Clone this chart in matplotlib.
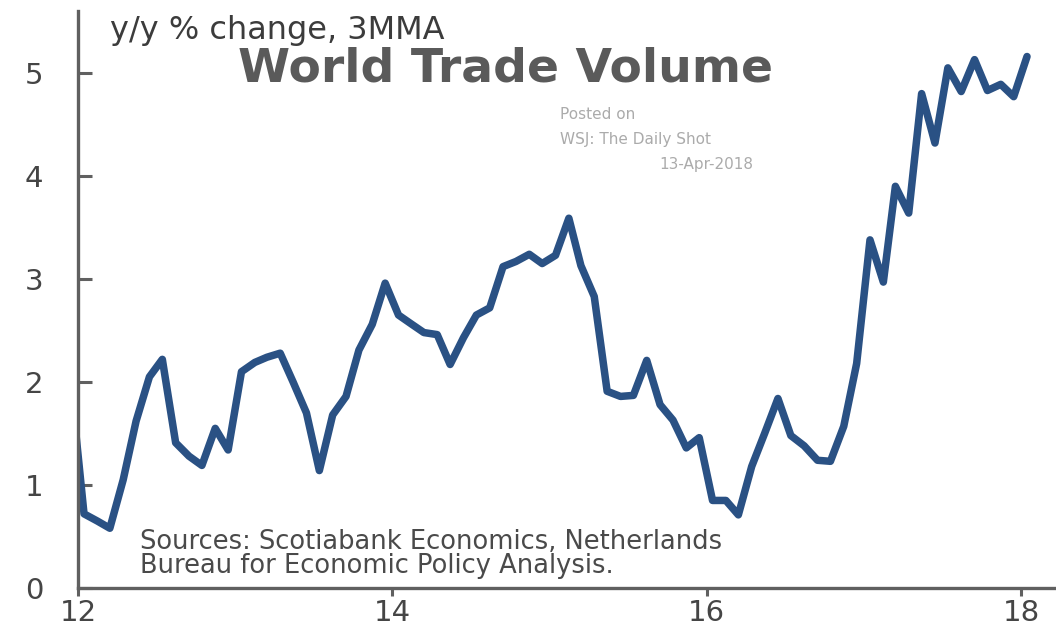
import matplotlib
matplotlib.use("Agg")
import matplotlib.pyplot as plt
import matplotlib.dates as mdates
import pandas as pd

# World trade volume, y/y % change of the 3-month moving average,
# monthly observations from Dec 2011 to Jan 2018 (plotted mid-month)
start_month = "2011-12"
trade_volume_yoy = [
    2.00,                                                        # 2011-12
    0.72, 0.65, 0.58, 1.05, 1.62, 2.05, 2.22, 1.41, 1.28, 1.19, 1.55, 1.34,  # 2012
    2.10, 2.19, 2.24, 2.28, 2.00, 1.70, 1.14, 1.68, 1.86, 2.31, 2.56, 2.96,  # 2013
    2.65, 2.56, 2.48, 2.46, 2.17, 2.43, 2.65, 2.72, 3.12, 3.17, 3.24, 3.15,  # 2014
    3.23, 3.59, 3.13, 2.83, 1.91, 1.86, 1.87, 2.21, 1.78, 1.63, 1.36, 1.46,  # 2015
    0.85, 0.85, 0.71, 1.18, 1.50, 1.84, 1.48, 1.38, 1.24, 1.23, 1.57, 2.18,  # 2016
    3.38, 2.97, 3.90, 3.64, 4.80, 4.32, 5.05, 4.82, 5.13, 4.83, 4.89, 4.77,  # 2017
    5.16,                                                        # 2018-01
]
months = (pd.period_range(start_month, periods=len(trade_volume_yoy), freq="M")
          .to_timestamp() + pd.Timedelta(days=14))

y_ticks = [0, 1, 2, 3, 4, 5]
x_tick_years = [2012, 2014, 2016, 2018]
x_tick_labels = ["12", "14", "16", "18"]

subtitle = "y/y % change, 3MMA"
title = "World Trade Volume"
source_lines = ["Sources: Scotiabank Economics, Netherlands",
                "Bureau for Economic Policy Analysis."]
posted = ["Posted on", "WSJ: The Daily Shot", "13-Apr-2018"]

W, H = 1056, 636
LINE_BLUE = "#2a5184"
AXIS_GREY = "#606060"
TEXT_GREY = "#454545"

plt.rcParams["font.family"] = ["DejaVu Sans"]

fig = plt.figure(figsize=(W / 100, H / 100), dpi=100)
fig.patch.set_facecolor("white")
ax = fig.add_axes([78 / W, 48 / H, (W - 78) / W, (588 - 11) / H])

ax.plot(months, trade_volume_yoy, color=LINE_BLUE, lw=5.4,
        solid_joinstyle="round", solid_capstyle="round")

# axis limits: Jan 2012 at the left spine, a little past Jan 2018 on the right
x0 = mdates.date2num(pd.Timestamp("2012-01-01"))
x18 = mdates.date2num(pd.Timestamp("2018-01-01"))
per_px = (x18 - x0) / (1021 - 78)
ax.set_xlim(x0, x0 + per_px * (W - 78))
ax.set_ylim(0, (588 - 11) / 103)

ax.set_xticks([mdates.date2num(pd.Timestamp(f"{y}-01-01")) for y in x_tick_years])
ax.set_xticklabels(x_tick_labels)
ax.set_yticks(y_ticks)
ax.set_yticklabels([str(v) for v in y_ticks])

for side in ("top", "right"):
    ax.spines[side].set_visible(False)
for side in ("left", "bottom"):
    ax.spines[side].set_color(AXIS_GREY)
    ax.spines[side].set_linewidth(2.4)

ax.tick_params(axis="y", direction="in", length=10, width=2.2, color=AXIS_GREY,
               pad=25, labelsize=21, labelcolor=TEXT_GREY)
ax.tick_params(axis="x", direction="out", length=6, width=2.2, color=AXIS_GREY,
               pad=2, labelsize=21, labelcolor=TEXT_GREY)


def fx(px):
    return px / W


def fy(py):
    return 1 - py / H


fig.text(fx(110), fy(39), subtitle, fontsize=23, color="#3c3c3c", va="baseline")
fig.text(fx(506), fy(81), title, fontsize=34, fontweight="bold", color="#5a5a5a",
         ha="center", va="baseline")

fig.text(fx(560), fy(119), posted[0], fontsize=11, color="#ababab", va="baseline")
fig.text(fx(560), fy(144), posted[1], fontsize=11, color="#ababab", va="baseline")
fig.text(fx(753), fy(169), posted[2], fontsize=11, color="#ababab", va="baseline",
         ha="right")

# two-line source note; "baseline" anchors the last line
fig.text(fx(140), fy(573), "\n".join(source_lines), fontsize=18.5, color="#4a4a4a",
         va="baseline", linespacing=0.9)

fig.savefig("out.png", dpi=100, facecolor="white")
